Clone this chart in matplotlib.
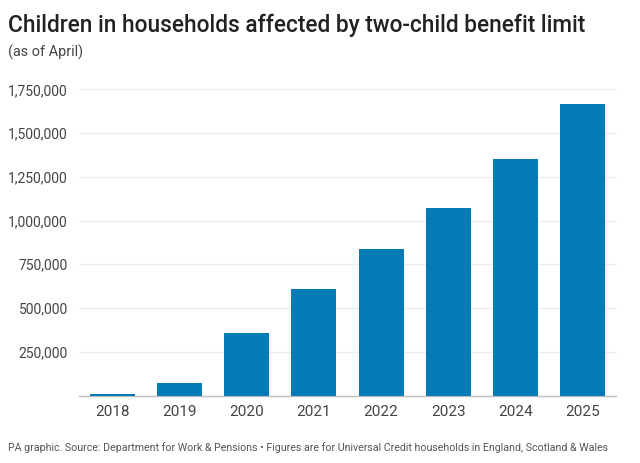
import matplotlib
matplotlib.use("Agg")
import matplotlib.pyplot as plt
from matplotlib.ticker import FuncFormatter

years = ["2018", "2019", "2020", "2021", "2022", "2023", "2024", "2025"]
children = [8000, 73000, 357000, 610000, 837000, 1070000, 1351000, 1664000]
yticks = [0, 250000, 500000, 750000, 1000000, 1250000, 1500000, 1750000]

plt.rcParams['font.family'] = ['Roboto', 'DejaVu Sans']

fig = plt.figure(figsize=(6.4, 4.63), dpi=100)
ax = fig.add_axes([79/640, 1-395.5/463, (616-79)/640, (395.5-89.3)/463])

x = list(range(len(years)))
ax.bar(x, children, width=0.67, color='#047ab7', zorder=3)
ax.set_xlim(-0.5, 7.5)
ax.set_ylim(0, 1750000)
ax.set_yticks(yticks[1:])
ax.yaxis.set_major_formatter(FuncFormatter(lambda v, p: f"{int(v):,}"))
ax.set_xticks(x)
ax.set_xticklabels(years)
for s in ['top', 'right', 'left']:
    ax.spines[s].set_visible(False)
ax.spines['bottom'].set_color('#bdbdbd')
ax.spines['bottom'].set_linewidth(1.0)
ax.grid(axis='y', color='#ececec', linewidth=0.9, zorder=0)
for gl in ax.get_ygridlines():
    gl.set_clip_on(False)
ax.tick_params(axis='y', length=0, pad=8, labelsize=10, labelcolor='#444444')
ax.tick_params(axis='x', length=0, pad=7, labelsize=11, labelcolor='#444444')

t1 = fig.text(8/640, 1-32/463, "Children in households affected by two-child benefit limit",
              fontsize=16.5, fontweight='medium', color='#222222', ha='left', va='baseline')
t2 = fig.text(8/640, 1-57/463, "(as of April)", fontsize=12, color='#444444', ha='left', va='baseline')
t3 = fig.text(8/640, 1-451/463,
              "PA graphic. Source: Department for Work & Pensions \u2022 Figures are for Universal Credit households in England, Scotland & Wales",
              fontsize=8.3, color='#555555', ha='left', va='baseline')

fig.canvas.draw()
r = fig.canvas.get_renderer()
for t, w in [(t1, 577), (t2, 75), (t3, 601)]:
    cur = t.get_window_extent(r).width
    t.set_fontsize(t.get_fontsize() * w / cur)

fig.savefig("out.png", dpi=100, facecolor='white')
